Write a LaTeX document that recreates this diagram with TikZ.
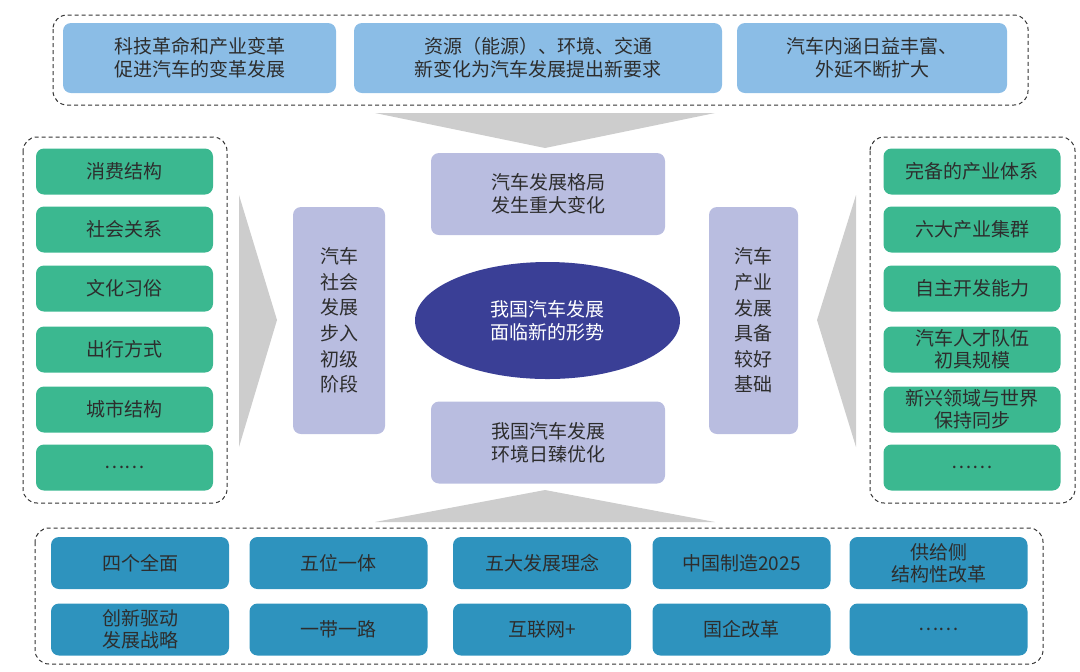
\documentclass[tikz,border=0pt]{standalone}
\usepackage{fontspec}
\setmainfont{Noto Sans CJK SC}
\usetikzlibrary{shapes.geometric}

\definecolor{topblue}{RGB}{139,189,230}
\definecolor{boxgreen}{RGB}{59,184,144}
\definecolor{lilac}{RGB}{185,189,224}
\definecolor{navy}{RGB}{58,63,150}
\definecolor{seablue}{RGB}{46,147,190}
\definecolor{txt}{RGB}{45,45,45}
\definecolor{chevron}{RGB}{205,205,205}

\begin{document}
\begin{tikzpicture}[x=0.5pt,y=-0.5pt]
        \tikzstyle{every node}=[font=\fontsize{9.5}{11.5}\selectfont, text=txt, align=center, inner sep=1pt]
        \tikzstyle{panel}=[draw=black!80, dash pattern=on 2pt off 1.5pt, line width=0.5pt, rounded corners=7pt]
        \tikzstyle{block}=[rectangle, rounded corners=4pt]
        \tikzstyle{topbox}=[block, fill=topblue, minimum height=35pt]
        \tikzstyle{greenbox}=[block, fill=boxgreen, minimum width=88.5pt, minimum height=23pt, font=\fontsize{9.5}{11}\selectfont]
        \tikzstyle{lilacbox}=[block, fill=lilac]
        \tikzstyle{sidebox}=[lilacbox, minimum height=113.5pt, font=\fontsize{9.5}{12.8}\selectfont]
        \tikzstyle{midbox}=[lilacbox, minimum width=117pt, minimum height=41pt]
        \tikzstyle{policy}=[block, fill=seablue, minimum width=89pt, minimum height=26pt, font=\fontsize{9.5}{11}\selectfont]
        \tikzstyle{wedge}=[fill=chevron, draw=none]

        \useasboundingbox (0,0) rectangle (1080,671);

        % grey chevrons pointing at the centre
        \fill[wedge] (375,113) -- (715,113) -- (545,148) -- cycle;
        \fill[wedge] (375,522) -- (715,522) -- (545,490) -- cycle;
        \fill[wedge] (239,195) -- (277,320) -- (239,447) -- cycle;
        \fill[wedge] (856,195) -- (817,320) -- (856,447) -- cycle;

        % dashed frames
        \draw[panel] (53,15) rectangle (1028,105);
        \draw[panel] (23,137) rectangle (227,503);
        \draw[panel] (870,137) rectangle (1075,503);
        \draw[panel] (35,528) rectangle (1043,664);

        % top row
        \node[topbox, minimum width=136.5pt] (revolution) at (199.5,58) {科技革命和产业变革\\促进汽车的变革发展};
        \node[topbox, minimum width=184pt] (resources) at (538,58) {资源（能源）、环境、交通\\新变化为汽车发展提出新要求};
        \node[topbox, minimum width=135pt] (extension) at (872,58) {汽车内涵日益丰富、\\外延不断扩大};

        % left column
        \node[greenbox] (consume) at (124.5,171.5) {消费结构};
        \node[greenbox] (social) at (124.5,229.5) {社会关系};
        \node[greenbox] (culture) at (124.5,288.5) {文化习俗};
        \node[greenbox] (travel) at (124.5,349.5) {出行方式};
        \node[greenbox] (city) at (124.5,409.5) {城市结构};
        \node[greenbox] (leftmore) at (124.5,467.5) {……};

        % right column
        \node[greenbox] (system) at (972,171.5) {完备的产业体系};
        \node[greenbox] (cluster) at (972,229.5) {六大产业集群};
        \node[greenbox] (develop) at (972,288.5) {自主开发能力};
        \node[greenbox] (talent) at (972,349.5) {汽车人才队伍\\初具规模};
        \node[greenbox] (frontier) at (972,409.5) {新兴领域与世界\\保持同步};
        \node[greenbox] (rightmore) at (972,467.5) {……};

        % centre
        \node[sidebox, minimum width=46pt] (society) at (339,320.5) {汽车\\社会\\发展\\步入\\初级\\阶段};
        \node[sidebox, minimum width=44.5pt] (industry) at (753.5,320.5) {汽车\\产业\\发展\\具备\\较好\\基础};
        \node[midbox] (pattern) at (548,194) {汽车发展格局\\发生重大变化};
        \node[midbox] (environment) at (548,442.5) {我国汽车发展\\环境日臻优化};
        \node[ellipse, fill=navy, text=white, minimum width=132.5pt, minimum height=58.5pt, inner sep=0pt] (situation) at (547.5,320.5) {我国汽车发展\\面临新的形势};

        % bottom rows
        \node[policy] (fourfold) at (140,563) {四个全面};
        \node[policy] (fivefold) at (338.5,563) {五位一体};
        \node[policy] (concepts) at (542,563) {五大发展理念};
        \node[policy] (made) at (741.5,563) {中国制造2025};
        \node[policy] (supply) at (938.5,563) {供给侧\\结构性改革};
        \node[policy] (innovation) at (140,629.5) {创新驱动\\发展战略};
        \node[policy] (beltroad) at (338.5,629.5) {一带一路};
        \node[policy] (internet) at (542,629.5) {互联网+};
        \node[policy] (soe) at (741.5,629.5) {国企改革};
        \node[policy] (bottommore) at (938.5,629.5) {……};
\end{tikzpicture}
\end{document}
